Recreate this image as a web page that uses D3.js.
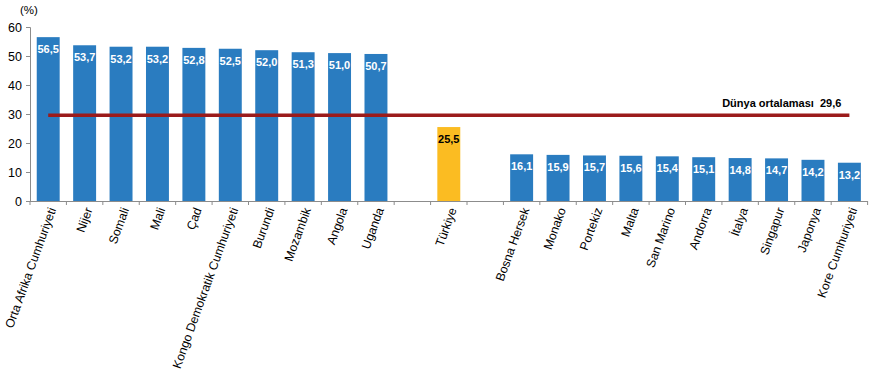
<!DOCTYPE html>
<html><head><meta charset="utf-8">
<script src="https://cdn.jsdelivr.net/npm/d3@7"></script>
<style>body{margin:0;background:#fff;} svg{display:block;font-family:"Liberation Sans",Arial,sans-serif;}</style>
</head><body>
<script>
const countries = ["Orta Afrika Cumhuriyeti","Nijer","Somali","Mali","Çad","Kongo Demokratik Cumhuriyeti","Burundi","Mozambik","Angola","Uganda","","Türkiye","","Bosna Hersek","Monako","Portekiz","Malta","San Marino","Andorra","İtalya","Singapur","Japonya","Kore Cumhuriyeti"];
const values = [56.5,53.7,53.2,53.2,52.8,52.5,52.0,51.3,51.0,50.7,null,25.5,null,16.1,15.9,15.7,15.6,15.4,15.1,14.8,14.7,14.2,13.2];
const highlight = "Türkiye";
const worldAverage = 29.6;
const worldLabel = "Dünya ortalaması";
const yTicks = [0,10,20,30,40,50,60];
const unitLabel = "(%)";

const W = 877, H = 374;
const svg = d3.select("body").append("svg").attr("width", W).attr("height", H);
const idx = d3.range(countries.length);
const x = d3.scaleBand().domain(idx).range([30, 867.6]).paddingInner(0.37).paddingOuter(0.185);
const y = d3.scaleLinear().domain([0, 60]).range([201, 27]);
const fmt = v => v.toFixed(1).replace(".", ",");

// y axis
const yAxis = svg.append("g").attr("transform", "translate(30,0)")
  .call(d3.axisLeft(y).tickValues(yTicks).tickSize(4).tickPadding(4).tickFormat(d => d));
yAxis.select(".domain").attr("stroke", "#8c8c8c");
yAxis.selectAll(".tick line").attr("stroke", "#8c8c8c");
yAxis.selectAll(".tick text").attr("font-size", 12.5).attr("fill", "#000").attr("font-family", "Liberation Sans, Arial, sans-serif");

svg.append("text").attr("x", 20).attr("y", 14).attr("font-size", 11.5).text(unitLabel);

// bars
const data = idx.map(i => ({i, name: countries[i], v: values[i]})).filter(d => d.v != null);
svg.selectAll("rect.bar").data(data).join("rect")
  .attr("x", d => x(d.i)).attr("width", x.bandwidth())
  .attr("y", d => y(d.v)).attr("height", d => y(0) - y(d.v))
  .attr("fill", d => d.name === highlight ? "#fbbc22" : "#2a7cc0");

// x axis line and ticks at slot boundaries
const step = x.step();
svg.append("line").attr("x1", 30).attr("x2", 30 + step * countries.length)
  .attr("y1", y(0) + 0.5).attr("y2", y(0) + 0.5).attr("stroke", "#8c8c8c");
svg.selectAll("line.xt").data(d3.range(countries.length + 1)).join("line")
  .attr("x1", i => 30 + i * step).attr("x2", i => 30 + i * step)
  .attr("y1", y(0)).attr("y2", y(0) + 4).attr("stroke", "#8c8c8c");

// world average line
const cx = i => x(i) + x.bandwidth() / 2;
svg.append("line").attr("x1", cx(0)).attr("x2", cx(countries.length - 1))
  .attr("y1", y(worldAverage)).attr("y2", y(worldAverage))
  .attr("stroke", "#9b1b1b").attr("stroke-width", 3.5);
svg.append("text").attr("x", cx(countries.length - 1) - 8).attr("y", y(worldAverage) - 8)
  .attr("text-anchor", "end").attr("font-size", 11).attr("font-weight", "bold")
  .attr("xml:space", "preserve").text(worldLabel + "  " + fmt(worldAverage));

// value labels
svg.selectAll("text.val").data(data).join("text")
  .attr("x", d => cx(d.i)).attr("y", d => y(d.v) + 16)
  .attr("text-anchor", "middle").attr("font-size", 11).attr("font-weight", "bold")
  .attr("fill", d => d.name === highlight ? "#000" : "#fff")
  .text(d => fmt(d.v));

// category labels
svg.selectAll("text.cat").data(data).join("text")
  .attr("transform", d => `translate(${cx(d.i) + 4},${y(0) + 7}) rotate(-70)`)
  .attr("text-anchor", "end").attr("font-size", 12.3).attr("dy", "0.35em")
  .text(d => d.name);
</script>
</body></html>
